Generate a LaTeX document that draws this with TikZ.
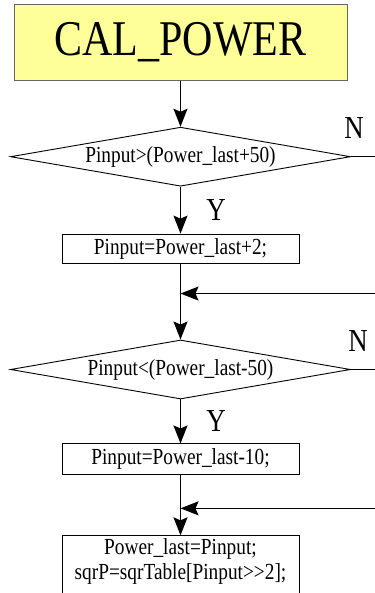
\documentclass[tikz,border=0pt]{standalone}
\usepackage{fontspec}
\setmainfont{Liberation Serif}[FakeStretch=0.84]
\usetikzlibrary{positioning, arrows.meta, shapes.geometric}
\definecolor{headyellow}{RGB}{255,255,153}

\begin{document}
\begin{tikzpicture}[x=1pt, y=1pt, node distance=46pt]
    \tikzset{
        headbox/.style={rectangle, draw=black!60, line width=1pt, fill=headyellow,
                        minimum width=333pt, minimum height=75.5pt,
                        font=\fontsize{50}{60}\selectfont},
        decision/.style={diamond, aspect=5.76, draw, line width=0.9pt, inner sep=0pt,
                         minimum width=340pt, minimum height=59pt,
                         font=\fontsize{23}{26}\selectfont},
        stepbox/.style={rectangle, draw, line width=0.9pt, inner sep=3pt,
                        minimum width=237pt, minimum height=29pt,
                        font=\fontsize{23}{25}\selectfont},
        answer/.style={inner sep=0pt, font=\fontsize{32}{34}\selectfont},
        flow/.style={line width=1.5pt, -{Stealth[length=18pt, width=14pt, inset=3pt]}},
        plain/.style={line width=1.5pt}
    }
    \useasboundingbox (0,0) rectangle (374,-593);
    \node[headbox] (calpower) at (180.5,-42.5) {CAL\_POWER};
    \node[decision, below=46pt of calpower] (test1) {Pinput>(Power\_last+50)};
    \node[stepbox, below=47pt of test1] (raise) {Pinput=Power\_last+2;};
    \coordinate[below=30pt of raise] (join1);
    \node[decision, below=76pt of raise] (test2) {Pinput<(Power\_last-50)};
    \node[stepbox, below=44pt of test2, minimum height=31pt] (lower) {Pinput=Power\_last-10;};
    \coordinate[below=33pt of lower] (join2);
    \node[stepbox, below=60pt of lower, align=center, text depth=60pt] (update)
        {Power\_last=Pinput;\\sqrP=sqrTable[Pinput>{}>2];};

    % loose ends running off to the right
    \coordinate[right=30pt of test1.east] (out1);
    \coordinate[right=30pt of test2.east] (out2);
    \coordinate[right=200pt of join1] (back1);
    \coordinate[right=200pt of join2] (back2);

    \node[answer] (no1) at ([shift={(3pt,29pt)}]test1.east) {N};
    \node[answer] (no2) at ([shift={(7pt,28pt)}]test2.east) {N};

    \draw[flow] (calpower) -- (test1);
    \draw[flow] (test1) -- node[answer, right=25pt] (yes1) {Y} (raise);
    \draw[flow] (raise) -- (test2);
    \draw[flow] (test2) -- node[answer, right=25pt] (yes2) {Y} (lower);
    \draw[flow] (lower) -- (update);
    \draw[plain] (test1) -- (out1);
    \draw[plain] (test2) -- (out2);
    \draw[flow] (back1) -- (join1);
    \draw[flow] (back2) -- (join2);
\end{tikzpicture}
\end{document}
